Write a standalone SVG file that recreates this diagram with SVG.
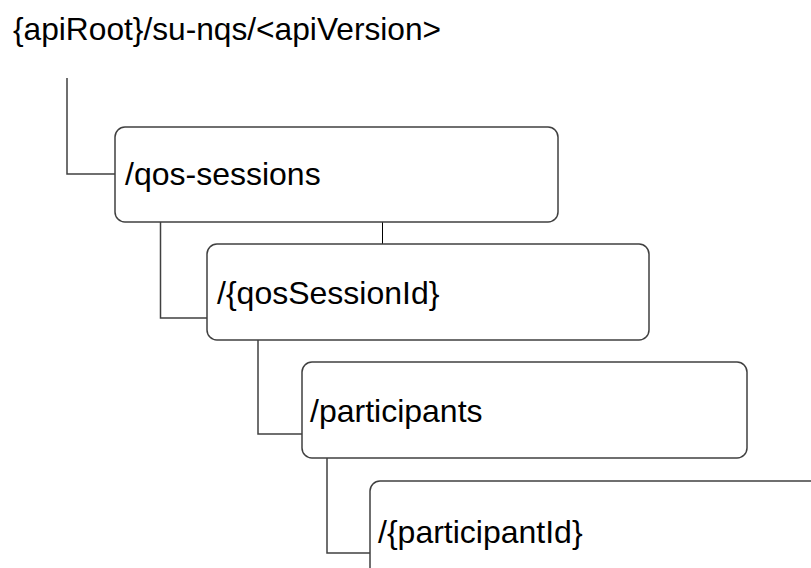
<svg xmlns="http://www.w3.org/2000/svg" width="811" height="568" viewBox="0 0 811 568">
<style>
.box{fill:#ffffff;stroke:#404040;stroke-width:1.5}
.lbl{font-family:"Liberation Sans",Arial,sans-serif;font-size:32px;fill:#000000}
.con{fill:none;stroke:#404040;stroke-width:1.5}
.thin{fill:none;stroke:#000000;stroke-width:1}
</style>
<rect x="0" y="0" width="811" height="568" fill="#ffffff"/>
<g id="root"><text class="lbl" x="13" y="40" style="font-size:31.7px">{apiRoot}/su-nqs/&lt;apiVersion&gt;</text></g>
<g id="connectors">
<polyline class="con" points="67,78 67,174 115,174"/>
<polyline class="con" points="160.5,222 160.5,318 207,318"/>
<line class="thin" x1="382.5" y1="222" x2="382.5" y2="244"/>
<polyline class="con" points="258,340 258,434 302,434"/>
<polyline class="con" points="327,458 327,553 370,553"/>
</g>
<g id="qos-sessions"><rect class="box" x="115" y="127" width="443" height="95" rx="10"/><text class="lbl" x="125" y="185">/qos-sessions</text></g>
<g id="qosSessionId"><rect class="box" x="207" y="244" width="442" height="96" rx="10"/><text class="lbl" x="217" y="304">/{qosSessionId}</text></g>
<g id="participants"><rect class="box" x="302" y="362" width="445" height="96" rx="10"/><text class="lbl" x="310" y="422">/participants</text></g>
<g id="participantId"><rect class="box" x="370" y="481" width="460" height="110" rx="10"/><text class="lbl" x="378" y="543">/{participantId}</text></g>
</svg>
